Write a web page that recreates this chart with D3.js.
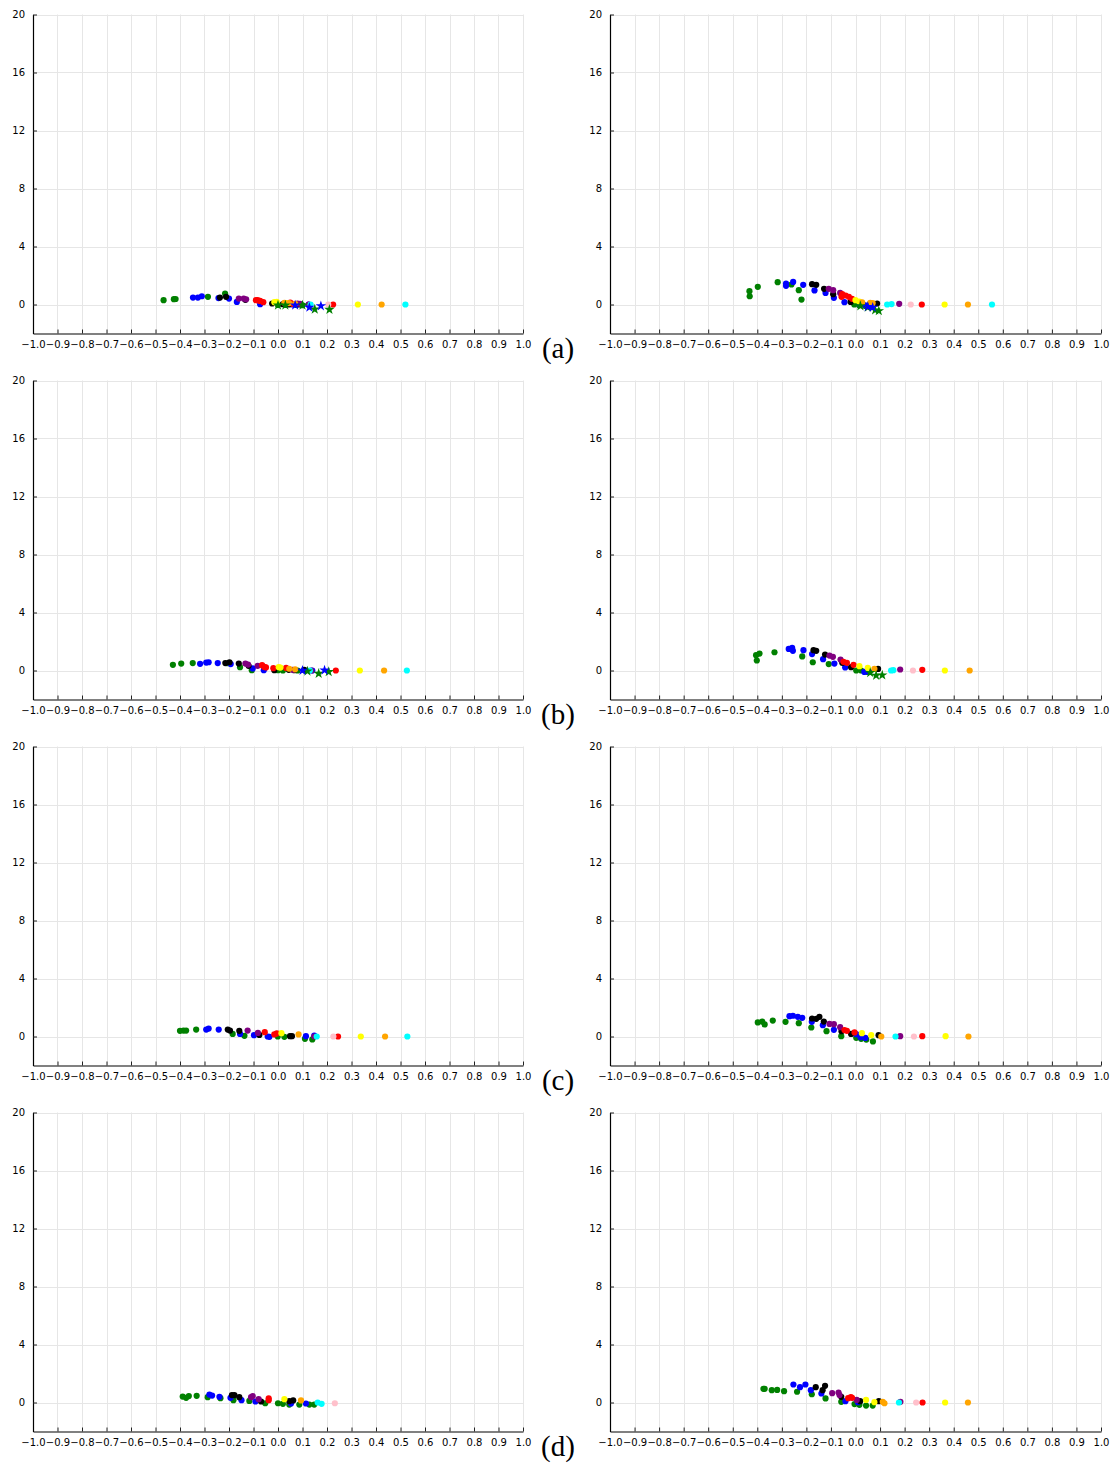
<!DOCTYPE html>
<html>
<head>
<meta charset="utf-8">
<script src="https://cdn.jsdelivr.net/npm/d3@7"></script>
<style>
  body { margin: 0; background: #fff; }
  svg { display: block; }
  .axis text { font-family: "DejaVu Sans", sans-serif; font-size: 10px; fill: #000; }
  .axis line { stroke: #222; }
  .grid line { stroke: #e6e6e6; stroke-width: 1; }
  .panel-label { font-family: "Liberation Serif", serif; font-size: 29px; }
</style>
</head>
<body>
<svg id="chart" width="1118" height="1466"></svg>
<script>
'use strict';

// tick values
var xTicks = d3.range(-10, 11).map(function(d) { return d / 10; });
var yTicks = [0, 4, 8, 12, 16, 20];
var panelLabels = ['(a)', '(b)', '(c)', '(d)'];

// groups: G green, B blue, K black, P purple, R red, Y yellow, O orange, I pink, C cyan, GS green star, BS blue star
var groups = ['G', 'B', 'K', 'P', 'R', 'Y', 'O', 'I', 'C', 'GS', 'BS'];

// each point: [group, x, y]
var pA1 = [
  ['G', -0.467, 0.30], ['G', -0.425, 0.37], ['G', -0.418, 0.38], ['G', -0.286, 0.53], ['G', -0.216, 0.76],
  ['G', 0.0, -0.03], ['G', 0.03, -0.02], ['G', 0.075, -0.03], ['G', 0.10, -0.05],
  ['B', -0.347, 0.48], ['B', -0.327, 0.48], ['B', -0.311, 0.57], ['B', -0.243, 0.44], ['B', -0.20, 0.41],
  ['B', -0.168, 0.18], ['B', -0.073, 0.02], ['B', 0.06, 0.0], ['B', 0.09, 0.0], ['B', 0.125, 0.0],
  ['K', -0.237, 0.48], ['K', -0.212, 0.53], ['K', -0.133, 0.32], ['K', -0.024, 0.07], ['K', 0.02, 0.02],
  ['K', 0.045, 0.0], ['K', 0.085, 0.02],
  ['P', -0.16, 0.41], ['P', -0.14, 0.41], ['P', -0.13, 0.36], ['P', 0.08, 0.07], ['P', 0.09, 0.05], ['P', 0.125, 0.0],
  ['R', -0.09, 0.30], ['R', -0.083, 0.30], ['R', -0.073, 0.25], ['R', -0.06, 0.16], ['R', 0.05, 0.13],
  ['R', 0.06, 0.05], ['R', 0.225, 0.0],
  ['Y', -0.015, 0.16], ['Y', -0.005, 0.18], ['Y', 0.035, 0.10], ['Y', 0.326, 0.0],
  ['O', 0.026, 0.12], ['O', 0.045, 0.10], ['O', 0.07, 0.05], ['O', 0.423, 0.0],
  ['I', 0.205, 0.0],
  ['C', 0.133, 0.0], ['C', 0.52, 0.0],
  ['GS', 0.0, -0.05], ['GS', 0.03, -0.05], ['GS', 0.10, -0.05], ['GS', 0.15, -0.33], ['GS', 0.21, -0.35],
  ['BS', 0.07, -0.05], ['BS', 0.128, -0.20], ['BS', 0.175, -0.10]
];

var pA2 = [
  ['G', -0.432, 0.92], ['G', -0.431, 0.57], ['G', -0.398, 1.22], ['G', -0.317, 1.54], ['G', -0.261, 1.38],
  ['G', -0.231, 0.99], ['G', -0.22, 0.34], ['G', -0.005, 0.0], ['G', 0.015, -0.05], ['G', 0.04, -0.10], ['G', 0.06, -0.15],
  ['B', -0.283, 1.45], ['B', -0.283, 1.29], ['B', -0.254, 1.56], ['B', -0.213, 1.36], ['B', -0.167, 0.97],
  ['B', -0.122, 0.80], ['B', -0.088, 0.46], ['B', -0.045, 0.16], ['B', 0.02, -0.02], ['B', 0.04, -0.05], ['B', 0.065, -0.12],
  ['K', -0.177, 1.40], ['K', -0.16, 1.36], ['K', -0.128, 1.08], ['K', -0.091, 0.71], ['K', -0.02, 0.18], ['K', 0.088, 0.07],
  ['P', -0.109, 1.08], ['P', -0.091, 0.99], ['P', -0.0625, 0.80], ['P', 0.178, 0.05],
  ['R', -0.057, 0.53], ['R', -0.054, 0.71], ['R', -0.04, 0.62], ['R', -0.027, 0.53], ['R', -0.014, 0.39], ['R', 0.27, 0.0],
  ['Y', 0.0, 0.30], ['Y', 0.015, 0.20], ['Y', 0.363, 0.0],
  ['O', 0.027, 0.14], ['O', 0.06, 0.11], ['O', 0.07, 0.10], ['O', 0.458, 0.0],
  ['I', 0.225, 0.0],
  ['C', 0.129, 0.0], ['C', 0.147, 0.03], ['C', 0.556, 0.0],
  ['GS', 0.02, -0.10], ['GS', 0.05, -0.20], ['GS', 0.08, -0.39], ['GS', 0.095, -0.44],
  ['BS', 0.05, -0.15], ['BS', 0.07, -0.20]
];

var pB1 = [
  ['G', -0.429, 0.39], ['G', -0.395, 0.48], ['G', -0.348, 0.51], ['G', -0.205, 0.50], ['G', -0.155, 0.23],
  ['G', -0.107, 0.02], ['G', 0.0, 0.02], ['G', 0.02, 0.0], ['G', 0.08, 0.0],
  ['B', -0.318, 0.46], ['B', -0.293, 0.55], ['B', -0.283, 0.57], ['B', -0.246, 0.51], ['B', -0.193, 0.44],
  ['B', -0.103, 0.14], ['B', -0.058, 0.02], ['B', 0.11, 0.0], ['B', 0.14, 0.0],
  ['K', -0.215, 0.51], ['K', -0.198, 0.57], ['K', -0.16, 0.48], ['K', -0.12, 0.32], ['K', -0.015, 0.02],
  ['K', 0.044, 0.05], ['K', 0.066, 0.02], ['K', 0.107, 0.05],
  ['P', -0.133, 0.48], ['P', -0.122, 0.41], ['P', -0.083, 0.32], ['P', 0.06, 0.05], ['P', 0.136, 0.0],
  ['R', -0.065, 0.37], ['R', -0.056, 0.25], ['R', -0.049, 0.21], ['R', -0.019, 0.16], ['R', 0.033, 0.18], ['R', 0.236, 0.0],
  ['Y', 0.003, 0.23], ['Y', 0.01, 0.20], ['Y', 0.334, 0.0],
  ['O', 0.046, 0.12], ['O', 0.07, 0.08], ['O', 0.433, 0.0],
  ['C', 0.13, 0.0], ['C', 0.526, 0.0],
  ['GS', 0.12, -0.05], ['GS', 0.166, -0.21], ['GS', 0.207, -0.09],
  ['BS', 0.10, 0.0], ['BS', 0.19, 0.02]
];

var pB2 = [
  ['G', -0.405, 1.06], ['G', -0.391, 1.17], ['G', -0.402, 0.69], ['G', -0.33, 1.26], ['G', -0.217, 0.97],
  ['G', -0.174, 0.57], ['G', -0.109, 0.44], ['G', 0.003, 0.0], ['G', 0.023, 0.0], ['G', 0.05, -0.10],
  ['B', -0.272, 1.49], ['B', -0.258, 1.56], ['B', -0.255, 1.36], ['B', -0.212, 1.40], ['B', -0.177, 1.13],
  ['B', -0.132, 0.78], ['B', -0.086, 0.48], ['B', -0.042, 0.21], ['B', 0.036, -0.10], ['B', 0.056, -0.10],
  ['K', -0.171, 1.40], ['K', -0.16, 1.36], ['K', -0.124, 1.10], ['K', -0.054, 0.53], ['K', -0.018, 0.23], ['K', 0.092, 0.11],
  ['P', -0.106, 1.03], ['P', -0.092, 0.94], ['P', -0.061, 0.76], ['P', 0.182, 0.07],
  ['R', -0.049, 0.60], ['R', -0.035, 0.53], ['R', -0.008, 0.39], ['R', 0.272, 0.05],
  ['Y', 0.016, 0.30], ['Y', 0.05, 0.18], ['Y', 0.364, 0.0],
  ['O', 0.077, 0.11], ['O', 0.465, 0.0],
  ['I', 0.234, 0.0],
  ['C', 0.145, 0.0], ['C', 0.154, 0.02],
  ['GS', 0.06, -0.15], ['GS', 0.084, -0.34], ['GS', 0.109, -0.32]
];

var pC1 = [
  ['G', -0.40, 0.39], ['G', -0.386, 0.41], ['G', -0.375, 0.41], ['G', -0.334, 0.48], ['G', -0.185, 0.18],
  ['G', -0.137, 0.05], ['G', -0.001, 0.0], ['G', 0.026, -0.02], ['G', 0.11, -0.16], ['G', 0.14, -0.20],
  ['B', -0.293, 0.48], ['B', -0.283, 0.55], ['B', -0.242, 0.48], ['B', -0.155, 0.18], ['B', -0.098, 0.09],
  ['B', -0.042, 0.0], ['B', -0.035, -0.02], ['B', 0.114, 0.02], ['B', 0.148, 0.07],
  ['K', -0.205, 0.48], ['K', -0.196, 0.41], ['K', -0.158, 0.39], ['K', -0.076, 0.11], ['K', 0.049, 0.02], ['K', 0.057, 0.02],
  ['P', -0.124, 0.41], ['P', -0.082, 0.25], ['P', 0.148, 0.0],
  ['R', -0.054, 0.30], ['R', -0.015, 0.14], ['R', -0.005, 0.21], ['R', 0.245, 0.0],
  ['Y', 0.014, 0.23], ['Y', 0.338, 0.0],
  ['O', 0.084, 0.14], ['O', 0.437, 0.0],
  ['I', 0.226, 0.0],
  ['C', 0.158, 0.0], ['C', 0.528, 0.0]
];

var pC2 = [
  ['G', -0.398, 0.97], ['G', -0.38, 1.03], ['G', -0.37, 0.83], ['G', -0.337, 1.10], ['G', -0.285, 1.01],
  ['G', -0.231, 0.92], ['G', -0.18, 0.62], ['G', -0.118, 0.37], ['G', -0.058, 0.02], ['G', 0.003, -0.09],
  ['G', 0.023, -0.16], ['G', 0.044, -0.21], ['G', 0.071, -0.34],
  ['B', -0.269, 1.40], ['B', -0.255, 1.43], ['B', -0.235, 1.36], ['B', -0.217, 1.29], ['B', -0.178, 1.01],
  ['B', -0.133, 0.78], ['B', -0.088, 0.46], ['B', 0.003, 0.16], ['B', 0.02, -0.05], ['B', 0.04, -0.10],
  ['K', -0.177, 1.24], ['K', -0.16, 1.22], ['K', -0.147, 1.36], ['K', -0.129, 1.03], ['K', -0.057, 0.37],
  ['K', -0.018, 0.18], ['K', 0.094, 0.09],
  ['P', -0.106, 0.87], ['P', -0.088, 0.85], ['P', -0.0625, 0.64], ['P', 0.182, 0.02],
  ['R', -0.045, 0.44], ['R', -0.035, 0.39], ['R', -0.004, 0.28], ['R', 0.272, 0.02],
  ['Y', 0.026, 0.23], ['Y', 0.064, 0.09], ['Y', 0.367, 0.02],
  ['O', 0.105, 0.0], ['O', 0.46, 0.0],
  ['I', 0.238, 0.0],
  ['C', 0.163, 0.0]
];

var pD1 = [
  ['G', -0.389, 0.41], ['G', -0.375, 0.32], ['G', -0.364, 0.44], ['G', -0.332, 0.46], ['G', -0.287, 0.37],
  ['G', -0.235, 0.30], ['G', -0.182, 0.16], ['G', -0.117, 0.11], ['G', -0.052, -0.05], ['G', 0.0, -0.05],
  ['G', 0.02, -0.09], ['G', 0.046, -0.14], ['G', 0.087, -0.14], ['G', 0.128, -0.14], ['G', 0.148, -0.14],
  ['B', -0.28, 0.55], ['B', -0.269, 0.48], ['B', -0.239, 0.39], ['B', -0.194, 0.32], ['B', -0.149, 0.16],
  ['B', -0.092, 0.07], ['B', 0.053, -0.07], ['B', 0.114, -0.07],
  ['K', -0.188, 0.51], ['K', -0.178, 0.51], ['K', -0.158, 0.37], ['K', -0.069, 0.07], ['K', 0.046, 0.09], ['K', 0.062, 0.14],
  ['P', -0.11, 0.37], ['P', -0.103, 0.44], ['P', -0.079, 0.23],
  ['R', -0.038, 0.28], ['R', -0.038, 0.16],
  ['Y', 0.026, 0.23],
  ['O', 0.094, 0.14],
  ['I', 0.232, -0.05],
  ['C', 0.162, 0.0], ['C', 0.178, -0.09]
];

var pD2 = [
  ['G', -0.375, 0.94], ['G', -0.37, 0.94], ['G', -0.341, 0.85], ['G', -0.319, 0.87], ['G', -0.291, 0.78],
  ['G', -0.238, 0.74], ['G', -0.178, 0.57], ['G', -0.122, 0.28], ['G', -0.058, 0.05], ['G', -0.004, -0.11],
  ['G', 0.016, -0.16], ['G', 0.043, -0.21], ['G', 0.07, -0.21],
  ['B', -0.253, 1.24], ['B', -0.226, 1.06], ['B', -0.204, 1.24], ['B', -0.182, 0.85], ['B', -0.139, 0.62],
  ['B', -0.041, 0.09], ['B', 0.01, 0.02],
  ['K', -0.162, 1.06], ['K', -0.134, 0.85], ['K', -0.124, 1.15], ['K', -0.058, 0.39], ['K', 0.019, 0.09], ['K', 0.095, 0.09],
  ['P', -0.095, 0.64], ['P', -0.069, 0.69], ['P', -0.065, 0.51], ['P', 0.005, 0.18], ['P', 0.183, 0.05],
  ['R', -0.03, 0.30], ['R', -0.019, 0.37], ['R', -0.014, 0.32], ['R', 0.273, 0.0],
  ['Y', 0.043, 0.18], ['Y', 0.077, 0.02], ['Y', 0.365, 0.0],
  ['O', 0.111, 0.05], ['O', 0.118, -0.05], ['O', 0.458, 0.0],
  ['I', 0.247, 0.0],
  ['C', 0.177, 0.0]
];

var rows = [[pA1, pA2], [pB1, pB2], [pC1, pC2], [pD1, pD2]];

// layout
var colRange = [[33, 523], [610, 1101]];
var rowTop = 14.5;
var rowStep = 366;
var plotH = 319;

var color = d3.scaleOrdinal()
  .domain(groups)
  .range(['#008000', '#0000ff', '#000000', '#800080', '#ff0000', '#ffff00', '#ffa500', '#ffc0cb', '#00ffff', '#008000', '#0000ff']);
var isStar = function(g) { return g === 'GS' || g === 'BS'; };

var svg = d3.select('#chart');

rows.forEach(function(row, ri) {
  var top = rowTop + ri * rowStep;
  var bottom = top + plotH;

  row.forEach(function(points, ci) {
    var x = d3.scaleLinear().domain([-1, 1]).range(colRange[ci]);
    var y = d3.scaleLinear().domain([-2, 20]).range([bottom, top]);

    var g = svg.append('g');

    // grid
    var grid = g.append('g').attr('class', 'grid');
    grid.selectAll('line.vx')
      .data(xTicks)
      .enter().append('line')
      .attr('x1', function(d) { return Math.round(x(d)) + 0.5; })
      .attr('x2', function(d) { return Math.round(x(d)) + 0.5; })
      .attr('y1', y(-2))
      .attr('y2', y(20));
    grid.selectAll('line.hy')
      .data(yTicks)
      .enter().append('line')
      .attr('x1', x(-1))
      .attr('x2', x(1))
      .attr('y1', function(d) { return Math.round(y(d)) + 0.5; })
      .attr('y2', function(d) { return Math.round(y(d)) + 0.5; });

    // axes
    var xAxisG = g.append('g')
      .attr('class', 'axis')
      .attr('transform', 'translate(0,' + bottom + ')')
      .call(d3.axisBottom(x)
        .tickValues(xTicks)
        .tickSizeInner(-4)
        .tickSizeOuter(0)
        .tickPadding(7)
        .tickFormat(d3.format('.1f')));
    xAxisG.select('.domain').attr('stroke', '#808080').attr('stroke-width', 1.8);

    var yAxisG = g.append('g')
      .attr('class', 'axis')
      .attr('transform', 'translate(' + colRange[ci][0] + ',0)')
      .call(d3.axisLeft(y)
        .tickValues(yTicks)
        .tickSizeInner(-4)
        .tickSizeOuter(0)
        .tickPadding(8));
    yAxisG.select('.domain').attr('stroke', '#000').attr('stroke-width', 1.2);
    yAxisG.selectAll('.tick line').attr('stroke', '#777');

    // points, drawn group by group
    var ordered = groups.reduce(function(acc, grp) {
      return acc.concat(points.filter(function(p) { return p[0] === grp; }));
    }, []);

    var circ = ordered.filter(function(p) { return !isStar(p[0]); });
    var stars = ordered.filter(function(p) { return isStar(p[0]); });

    g.append('g').selectAll('circle')
      .data(circ)
      .enter().append('circle')
      .attr('cx', function(d) { return x(d[1]); })
      .attr('cy', function(d) { return y(d[2]); })
      .attr('r', 3.1)
      .attr('fill', function(d) { return color(d[0]); });

    g.append('g').selectAll('path')
      .data(stars)
      .enter().append('path')
      .attr('d', d3.symbol().type(d3.symbolStar).size(34))
      .attr('transform', function(d) { return 'translate(' + x(d[1]) + ',' + y(d[2]) + ')'; })
      .attr('fill', function(d) { return color(d[0]); });
  });

  svg.append('text')
    .attr('class', 'panel-label')
    .attr('x', 558)
    .attr('y', bottom + 24)
    .attr('text-anchor', 'middle')
    .text(panelLabels[ri]);
});
</script>
</body>
</html>
